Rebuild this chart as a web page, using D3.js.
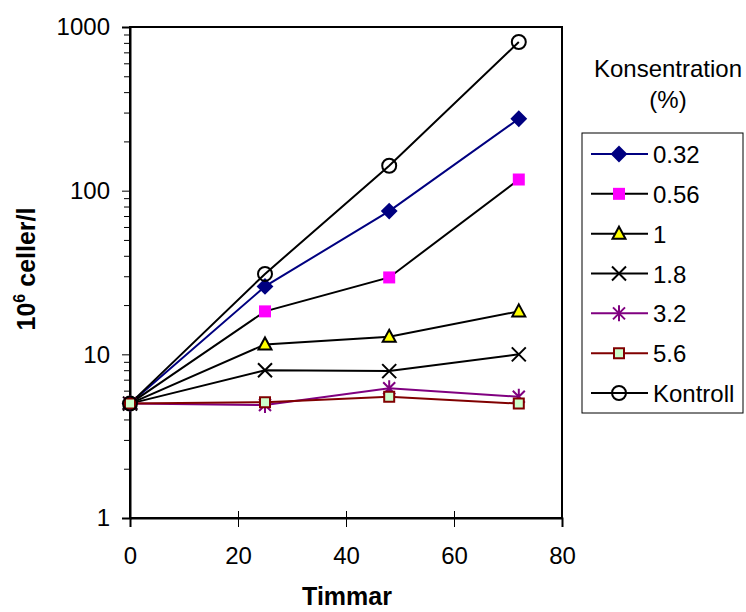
<!DOCTYPE html>
<html>
<head>
<meta charset="utf-8">
<script src="https://cdn.jsdelivr.net/npm/d3@7"></script>
<style>
body { margin: 0; background: #fff; }
text { font-family: "Liberation Sans", Arial, sans-serif; }
</style>
</head>
<body>
<div class="container"></div>
<script>
var w = 746,
h = 612;

// data
var hours = [0, 25, 48, 72];
var seriesNames = ['0.32', '0.56', '1', '1.8', '3.2', '5.6', 'Kontroll'];
var s032 = [5, 26, 75, 275];
var s056 = [5, 18.3, 29.5, 117];
var s1 = [5, 11.5, 12.8, 18.3];
var s18 = [5, 8.0, 7.9, 10];
var s32 = [5, 4.9, 6.2, 5.5];
var s56 = [5, 5.1, 5.5, 5.0];
var kontroll = [5, 31, 142, 810];
var xTicks = [0, 20, 40, 60, 80];
var yTicks = [1, 10, 100, 1000];

var allValues = [s032, s056, s1, s18, s32, s56, kontroll];

var styles = [
  {line: '#000080', shape: 'diamond', fill: '#000080', stroke: '#000080'},
  {line: '#000000', shape: 'square', fill: '#ff00ff', stroke: 'none'},
  {line: '#000000', shape: 'triangle', fill: '#ffff00', stroke: '#000000'},
  {line: '#000000', shape: 'x', fill: 'none', stroke: '#000000'},
  {line: '#800080', shape: 'star', fill: 'none', stroke: '#800080'},
  {line: '#800000', shape: 'square2', fill: '#ccffcc', stroke: '#800000'},
  {line: '#000000', shape: 'circle', fill: 'none', stroke: '#000000'}
];

var svg = d3.select('.container')
.append('svg')
.attr('width', w)
.attr('height', h);

var xScale = d3.scaleLinear()
.domain([0, 80])
.range([130, 562]);

var yScale = d3.scaleLog()
.domain([1, 1000])
.range([518, 27]);

// plot frame
svg.append('rect')
.attr('x', xScale(0))
.attr('y', yScale(1000))
.attr('width', xScale(80) - xScale(0))
.attr('height', yScale(1) - yScale(1000))
.style('fill', 'none')
.style('stroke', '#000')
.style('stroke-width', 2);

// y axis: major + minor ticks
var minor = [];
for (var d = 1; d < 1000; d *= 10) {
  for (var k = 2; k <= 9; k++) minor.push(d * k);
}
var yAxis = d3.axisLeft(yScale)
.tickValues(yTicks)
.tickFormat(d3.format('d'))
.tickSize(8)
.tickPadding(12);

var yAxisGroup = svg.append('g')
.attr('transform', 'translate(' + xScale(0) + ',0)')
.call(yAxis);

svg.append('g')
.attr('transform', 'translate(' + xScale(0) + ',0)')
.call(d3.axisLeft(yScale).tickValues(minor).tickFormat('').tickSize(6))
.select('.domain').remove();

var xAxis = d3.axisBottom(xScale)
.tickValues(xTicks)
.tickSize(9)
.tickPadding(20);

var xAxisGroup = svg.append('g')
.attr('transform', 'translate(0,' + yScale(1) + ')')
.call(xAxis);

// x ticks cross the axis line
xAxisGroup.selectAll('.tick line').attr('y1', -7);

svg.selectAll('.domain').style('stroke', '#000').style('stroke-width', 2);
svg.selectAll('.tick line').style('stroke', '#000').style('stroke-width', 1);
svg.selectAll('.tick text')
.style('font-size', '24px')
.style('font-family', '"Liberation Sans", Arial, sans-serif')
.style('fill', '#000');

// axis titles
svg.append('text')
.attr('x', 347)
.attr('y', 605)
.attr('text-anchor', 'middle')
.style('font-size', '25px')
.style('font-weight', 'bold')
.text('Timmar');

var yTitle = svg.append('text')
.attr('transform', 'translate(35,269) rotate(-90)')
.attr('text-anchor', 'middle')
.style('font-size', '25px')
.style('font-weight', 'bold');
yTitle.append('tspan').text('10');
yTitle.append('tspan').attr('dy', -10).style('font-size', '16px').text('6');
yTitle.append('tspan').attr('dy', 10).text(' celler/l');

function markerPath(shape) {
  if (shape === 'diamond') return 'M0,-7L7,0L0,7L-7,0Z';
  if (shape === 'square') return 'M-6,-6H6V6H-6Z';
  if (shape === 'square2') return 'M-5,-5H5V5H-5Z';
  if (shape === 'triangle') return 'M0,-7L6.5,5L-6.5,5Z';
  if (shape === 'x') return 'M-7,-7L7,7M7,-7L-7,7';
  if (shape === 'star') return 'M-6,-6L6,6M6,-6L-6,6M0,-8V8';
  return 'M7,0A7,7 0 1,1 -7,0A7,7 0 1,1 7,0Z';
}

var line = d3.line()
.x(function(d, i) { return xScale(hours[i]); })
.y(function(d) { return yScale(d); });

allValues.forEach(function(vals, si) {
  var st = styles[si];
  svg.append('path')
  .datum(vals)
  .attr('d', line)
  .style('fill', 'none')
  .style('stroke', st.line)
  .style('stroke-width', 2);
});

allValues.forEach(function(vals, si) {
  var st = styles[si];
  svg.selectAll('.m' + si)
  .data(vals)
  .enter()
  .append('path')
  .attr('class', 'm' + si)
  .attr('transform', function(d, i) { return 'translate(' + xScale(hours[i]) + ',' + yScale(d) + ')'; })
  .attr('d', markerPath(st.shape))
  .style('fill', st.fill)
  .style('stroke', st.stroke)
  .style('stroke-width', 2);
});

// legend
svg.append('text')
.attr('x', 668)
.attr('y', 77)
.attr('text-anchor', 'middle')
.style('font-size', '24px')
.text('Konsentration');
svg.append('text')
.attr('x', 668)
.attr('y', 108)
.attr('text-anchor', 'middle')
.style('font-size', '24px')
.text('(%)');

svg.append('rect')
.attr('x', 582)
.attr('y', 133)
.attr('width', 161)
.attr('height', 280)
.style('fill', '#fff')
.style('stroke', '#000')
.style('stroke-width', 1);

var legendRow = d3.scaleLinear()
.domain([0, 6])
.range([154, 393]);

seriesNames.forEach(function(name, si) {
  var st = styles[si];
  var y = legendRow(si);
  var g = svg.append('g').attr('transform', 'translate(0,' + y + ')');
  g.append('line')
  .attr('x1', 591).attr('x2', 648)
  .style('stroke', st.line)
  .style('stroke-width', 2);
  g.append('path')
  .attr('transform', 'translate(619,0)')
  .attr('d', markerPath(st.shape))
  .style('fill', st.fill)
  .style('stroke', st.stroke)
  .style('stroke-width', 2);
  g.append('text')
  .attr('x', 653)
  .attr('y', 9)
  .style('font-size', '24px')
  .text(name);
});
</script>
</body>
</html>
